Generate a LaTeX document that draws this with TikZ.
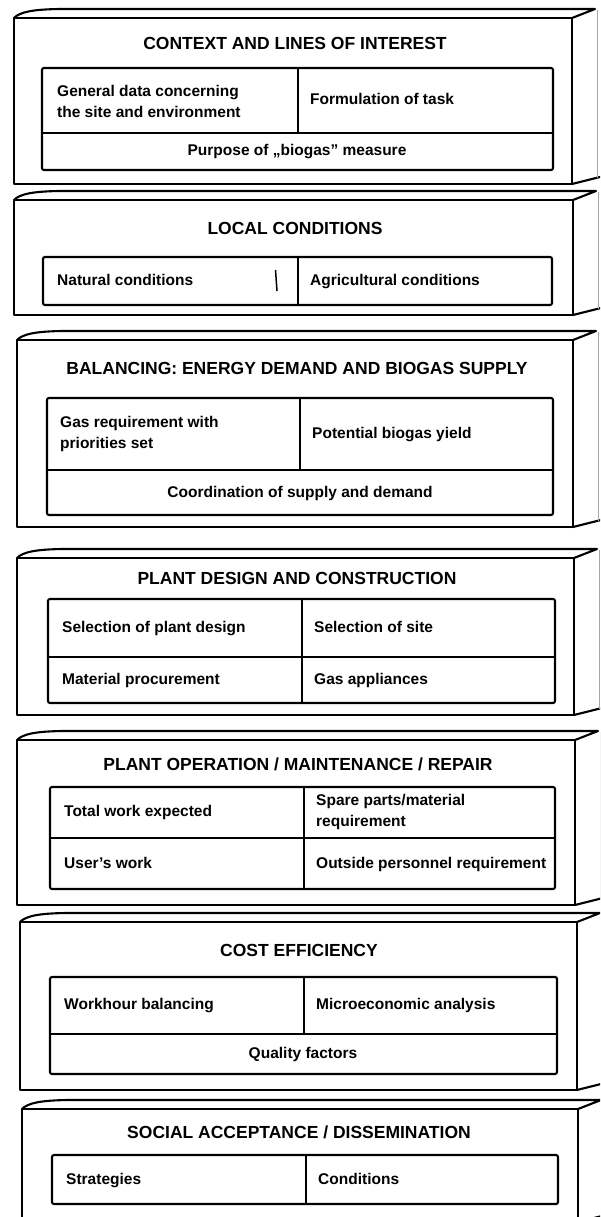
\documentclass[tikz,border=0pt]{standalone}
\usepackage{fontspec}
\setmainfont{Liberation Sans}
\newcommand{\drawslab}[4]{%
  \draw[edge] (#1,#3) rectangle (#2,#4);
  \draw[edge] (#1,#3) .. controls (#1+6,#3-6) and (#1+18,#3-8.5) .. (#1+45,#3-9) -- (#2+23,#3-9) -- (#2,#3);
  \draw[edge] (#2,#4) -- (#2+28,#4-7);
  \draw[backedge] (#2+25,#3-8) -- (#2+25,#4-6);
}
\begin{document}
\begin{tikzpicture}[x=1pt,y=-1pt,
  edge/.style={line width=2.1pt, line join=round, line cap=round},
  backedge/.style={line width=0.8pt, black!35},
  inner/.style={line width=2.1pt, rounded corners=2pt},
  inl/.style={line width=2.1pt},
  ttl/.style={font=\fontsize{17.5}{20}\selectfont\bfseries, anchor=center, inner sep=0pt,
    text height=12.5pt, text depth=0pt},
  cellfont/.style={font=\fontsize{15.5}{21}\selectfont\bfseries, inner sep=0pt},
  cell/.style={cellfont, anchor=west, text height=11.2pt, text depth=3.2pt},
  cell2/.style={cellfont, anchor=west, align=left},
  ccell/.style={cellfont, anchor=center, text height=11.2pt, text depth=3.2pt}]
\useasboundingbox (0,0) rectangle (600,1217);
\clip (0,0) rectangle (600,1217);

% Block 1
\drawslab{14}{572}{18}{184}
\node[ttl] (t1) at (295,43) {CONTEXT AND LINES OF INTEREST};
\draw[inner] (42,68) rectangle (553,170);
\draw[inl] (42,133) -- (553,133);
\draw[inl] (298,68) -- (298,133);
\node[cell2] (b1a) at (57,101) {General data concerning\\the site and environment};
\node[cell] (b1b) at (310,101) {Formulation of task};
\node[ccell] (b1c) at (297,152) {Purpose of „biogas” measure};

% Block 2
\drawslab{14}{573}{200}{315}
\node[ttl] (t2) at (295,228) {LOCAL CONDITIONS};
\draw[inner] (43,257) rectangle (552,305);
\draw[inl] (298,257) -- (298,305);
\node[cell] (b2a) at (57,281) {Natural conditions};
\node[cell] (b2b) at (310,281) {Agricultural conditions};
\draw[line width=1.5pt] (275.5,270) -- (277,291);

% Block 3
\drawslab{17}{573}{340}{527}
\node[ttl] (t3) at (297,368) {BALANCING: ENERGY DEMAND AND BIOGAS SUPPLY};
\draw[inner] (47,398) rectangle (553,515);
\draw[inl] (47,470) -- (553,470);
\draw[inl] (300,398) -- (300,470);
\node[cell2] (b3a) at (60,434) {Gas requirement with\\priorities set};
\node[cell] (b3b) at (312,434) {Potential biogas yield};
\node[ccell] (b3c) at (300,493) {Coordination of supply and demand};

% Block 4
\drawslab{17}{574}{558}{715}
\node[ttl] (t4) at (297,578) {PLANT DESIGN AND CONSTRUCTION};
\draw[inner] (48,599) rectangle (555,703);
\draw[inl] (48,657) -- (555,657);
\draw[inl] (302,599) -- (302,703);
\node[cell] (b4a) at (62,628) {Selection of plant design};
\node[cell] (b4b) at (314,628) {Selection of site};
\node[cell] (b4c) at (62,680) {Material procurement};
\node[cell] (b4d) at (314,680) {Gas appliances};

% Block 5
\drawslab{17}{575}{740}{905}
\node[ttl] (t5) at (298,764) {PLANT OPERATION / MAINTENANCE / REPAIR};
\draw[inner] (50,787) rectangle (555,889);
\draw[inl] (50,838) -- (555,838);
\draw[inl] (304,787) -- (304,889);
\node[cell] (b5a) at (64,812) {Total work expected};
\node[cell2] (b5b) at (316,812) {Spare parts/material\\requirement};
\node[cell] (b5c) at (64,864) {User’s work};
\node[cell] (b5d) at (316,864) {Outside personnel requirement};

% Block 6
\drawslab{20}{577}{922}{1090}
\node[ttl] (t6) at (299,950) {COST EFFICIENCY};
\draw[inner] (50,977) rectangle (557,1074);
\draw[inl] (50,1034) -- (557,1034);
\draw[inl] (304,977) -- (304,1034);
\node[cell] (b6a) at (64,1005) {Workhour balancing};
\node[cell] (b6b) at (316,1005) {Microeconomic analysis};
\node[ccell] (b6c) at (303,1054) {Quality factors};

% Block 7
\drawslab{22}{578}{1109}{1222}
\node[ttl] (t7) at (299,1132) {SOCIAL ACCEPTANCE / DISSEMINATION};
\draw[inner] (52,1155) rectangle (558,1204);
\draw[inl] (306,1155) -- (306,1204);
\node[cell] (b7a) at (66,1180) {Strategies};
\node[cell] (b7b) at (318,1180) {Conditions};
\end{tikzpicture}
\end{document}
